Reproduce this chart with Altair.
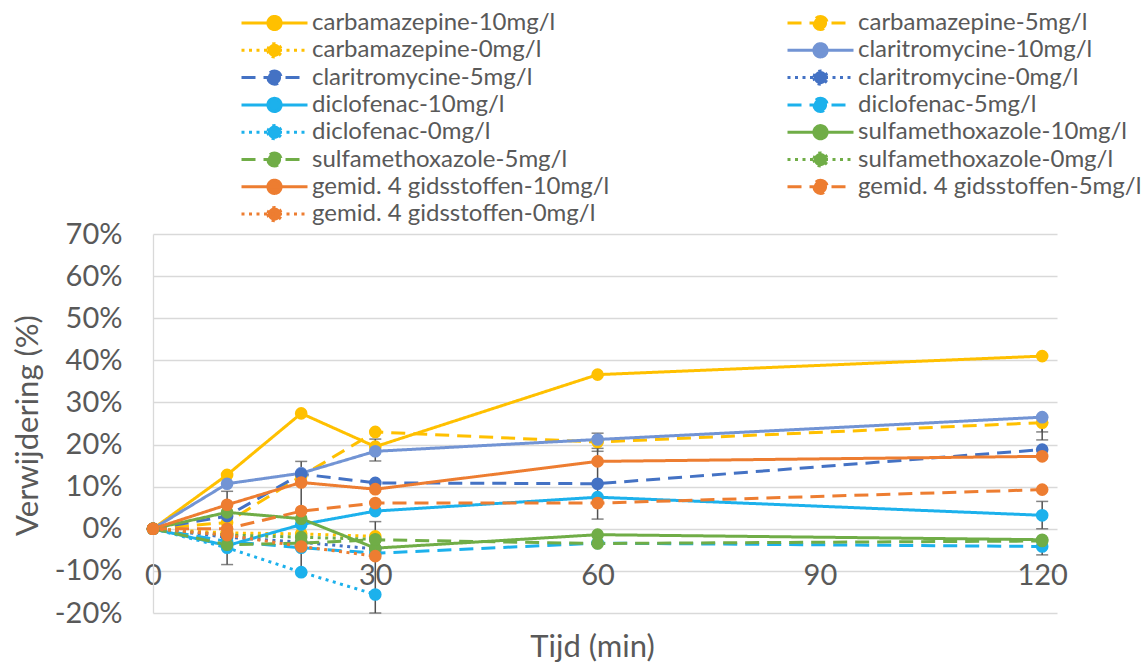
import altair as alt
import pandas as pd

# ---------------- data (percent removal) ----------------
times_full = [0, 10, 20, 30, 60, 120]
times_zero = [0, 10, 20, 30]

series_names = [
    "carbamazepine-10mg/l", "carbamazepine-5mg/l", "carbamazepine-0mg/l",
    "claritromycine-10mg/l", "claritromycine-5mg/l", "claritromycine-0mg/l",
    "diclofenac-10mg/l", "diclofenac-5mg/l", "diclofenac-0mg/l",
    "sulfamethoxazole-10mg/l", "sulfamethoxazole-5mg/l", "sulfamethoxazole-0mg/l",
    "gemid. 4 gidsstoffen-10mg/l", "gemid. 4 gidsstoffen-5mg/l", "gemid. 4 gidsstoffen-0mg/l",
]

carbamazepine_10 = [0, 12.8, 27.4, 19.5, 36.6, 41.0]
carbamazepine_5 = [0, 1.5, 12.5, 23.0, 20.6, 25.2]
carbamazepine_0 = [0, -1.0, -1.2, -1.8]
claritromycine_10 = [0, 10.7, 13.2, 18.4, 21.2, 26.5]
claritromycine_5 = [0, 3.0, 13.0, 10.9, 10.7, 18.8]
claritromycine_0 = [0, -2.0, -3.2, -4.8]
diclofenac_10 = [0, -4.0, 1.0, 4.2, 7.5, 3.2]
diclofenac_5 = [0, -3.0, -4.5, -5.8, -3.4, -4.2]
diclofenac_0 = [0, -4.5, -10.3, -15.6]
sulfamethoxazole_10 = [0, 3.9, 2.4, -4.6, -1.4, -2.6]
sulfamethoxazole_5 = [0, -3.8, -3.4, -2.6, -3.5, -2.9]
sulfamethoxazole_0 = [0, -1.5, -2.0, -2.5]
gemid_10 = [0, 5.7, 11.0, 9.4, 16.0, 17.2]
gemid_5 = [0, 0.0, 4.2, 6.1, 6.1, 9.3]
gemid_0 = [0, -1.5, -4.2, -6.5]

series_values = [
    carbamazepine_10, carbamazepine_5, carbamazepine_0,
    claritromycine_10, claritromycine_5, claritromycine_0,
    diclofenac_10, diclofenac_5, diclofenac_0,
    sulfamethoxazole_10, sulfamethoxazole_5, sulfamethoxazole_0,
    gemid_10, gemid_5, gemid_0,
]

# error bars (time, low, high) in percent
err_time = [10, 20, 30, 30, 60, 60, 120, 120, 120, 120]
err_low = [-8.5, -10.4, 16.1, -20.0, 18.4, 2.3, 23.0, 21.1, 0.0, -6.2]
err_high = [8.9, 16.0, 21.3, 1.7, 22.7, 19.1, 26.5, 25.2, 6.5, -2.2]

# ---------------- styles ----------------
yellow, blue_l, blue_d, cyan, green, orange = "#FFC000", "#7294D4", "#4472C4", "#1CB1EC", "#70AD47", "#ED7D31"
series_colors = [yellow, yellow, yellow, blue_l, blue_d, blue_d,
                 cyan, cyan, cyan, green, green, green, orange, orange, orange]
solid, dashed, dotted = [1, 0], [14, 8], [3, 4.5]
series_dash = [solid, dashed, dotted] * 5

rows = []
for name, vals in zip(series_names, series_values):
    ts = times_full if len(vals) == len(times_full) else times_zero
    for t, v in zip(ts, vals):
        rows.append({"series": name, "t": t, "v": v})
df = pd.DataFrame(rows)
err_df = pd.DataFrame({"t": err_time, "lo": err_low, "hi": err_high})

FONT = "Lato"
TXT = "#595959"

legend_path = "M-1,0L1,0M-0.2,0A0.2,0.2,0,1,0,0.2,0A0.2,0.2,0,1,0,-0.2,0Z"
legend = alt.Legend(
    title=None, orient="none", legendX=87, legendY=-223.5, columns=2, direction="horizontal",
    symbolType=legend_path, symbolSize=4356, symbolStrokeWidth=3, symbolOpacity=1,
    symbolFillColor=alt.ExprRef("scale('color', datum.value)"),
    labelFont=FONT, labelFontSize=24, labelColor=TXT, labelLimit=700,
    labelOffset=3, columnPadding=176, rowPadding=2.3, clipHeight=25, padding=0,
)

x_enc = alt.X("t:Q", scale=alt.Scale(domain=[0, 122], nice=False),
              axis=alt.Axis(values=[0, 30, 60, 90, 120], grid=False, domain=False, ticks=False,
                            tickSize=0, offset=-84, labelPadding=32, labelFont=FONT,
                            labelFontSize=29, labelColor=TXT, labelFlush=False,
                            title="Tijd (min)",
                            titleFont=FONT, titleFontSize=31, titleFontWeight="normal",
                            titleColor=TXT, titleX=439, titleY=127, titleBaseline="alphabetic",
                            titleAlign="center"))
y_enc = alt.Y("v:Q", scale=alt.Scale(domain=[-20, 70], nice=False, clamp=True),
              axis=alt.Axis(values=list(range(-20, 71, 10)), labelExpr="datum.value + '%'",
                            grid=True, gridColor="#D9D9D9", gridWidth=1.3, domain=True,
                            domainColor="#D9D9D9", domainWidth=1.3, ticks=False, tickSize=0,
                            labelPadding=31, labelFont=FONT, labelFontSize=29, labelColor=TXT,
                            labelFlush=False,
                            title="Verwijdering (%)", titleFont=FONT, titleFontSize=31,
                            titleFontWeight="normal", titleColor=TXT, titleAngle=270,
                            titleX=-116, titleY=191, titleBaseline="alphabetic",
                            titleAlign="center"))
color_enc = alt.Color("series:N", scale=alt.Scale(domain=series_names, range=series_colors),
                      sort=series_names, legend=legend)
dash_enc = alt.StrokeDash("series:N", scale=alt.Scale(domain=series_names, range=series_dash),
                          sort=series_names, legend=legend)

base = alt.Chart(df).encode(x=x_enc, y=y_enc, color=color_enc, strokeDash=dash_enc)
lines = base.mark_line(strokeWidth=3)
points = base.mark_point(filled=True, size=160, opacity=1, strokeWidth=0)

eb = alt.Chart(err_df)
err_rule = eb.mark_rule(color="#505050", strokeWidth=1.5).encode(x="t:Q", y="lo:Q", y2="hi:Q")
err_lo = eb.mark_tick(color="#505050", orient="horizontal", size=12, thickness=1.5).encode(x="t:Q", y="lo:Q")
err_hi = eb.mark_tick(color="#505050", orient="horizontal", size=12, thickness=1.5).encode(x="t:Q", y="hi:Q")

chart = alt.layer(lines, err_rule, err_lo, err_hi, points).properties(
    width=904, height=379,
    autosize=alt.AutoSizeParams(type="none"),
    padding={"left": 153, "top": 234, "right": 85, "bottom": 51},
    background="white",
).configure_view(stroke=None)

chart.save("out.html", embed_options={"renderer": "svg", "actions": False})
